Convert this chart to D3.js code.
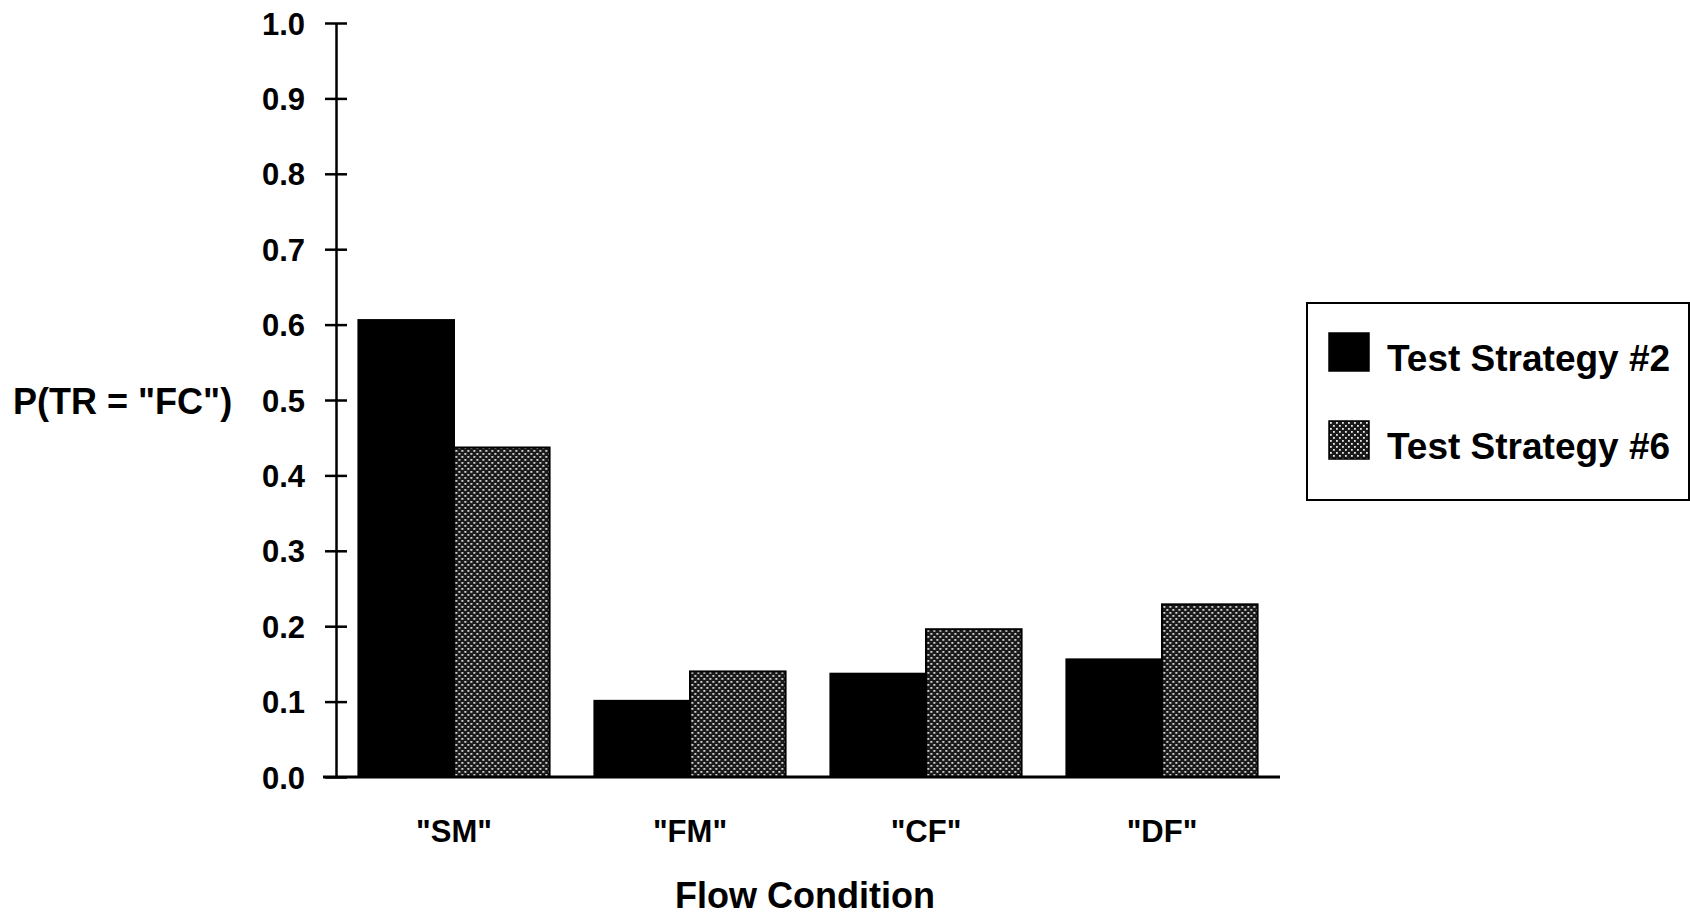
<!DOCTYPE html>
<html>
<head>
<meta charset="utf-8">
<script src="https://cdn.jsdelivr.net/npm/d3@7"></script>
<style>
  body { margin: 0; background: #fff; }
  text { font-family: "Liberation Sans", Arial, sans-serif; font-weight: bold; fill: #000; }
</style>
</head>
<body>
<div id="chart"></div>
<script>
// chart data
var categories = ['"SM"', '"FM"', '"CF"', '"DF"'];
var seriesNames = ["Test Strategy #2", "Test Strategy #6"];
var strategy2 = [0.606, 0.101, 0.137, 0.156];
var strategy6 = [0.437, 0.140, 0.196, 0.229];
var yTicks = [0.0, 0.1, 0.2, 0.3, 0.4, 0.5, 0.6, 0.7, 0.8, 0.9, 1.0];

var svgWidth = 1690;
var svgHeight = 915;

var margin = { top: 23, right: 410, bottom: 138, left: 336 };
var width = 1280 - margin.left;
var height = svgHeight - margin.top - margin.bottom;

var svg = d3.select("#chart")
  .append("svg")
  .attr("width", svgWidth)
  .attr("height", svgHeight);

// stippled fill for strategy #6
var defs = svg.append("defs");
var pat = defs.append("pattern")
  .attr("id", "stipple")
  .attr("patternUnits", "userSpaceOnUse")
  .attr("width", 6)
  .attr("height", 6);
pat.append("rect").attr("width", 6).attr("height", 6).attr("fill", "#1a1a1a");
pat.append("rect").attr("x", 1).attr("y", 1).attr("width", 1.8).attr("height", 1.8).attr("fill", "#e8e8e8");
pat.append("rect").attr("x", 4).attr("y", 4).attr("width", 1.8).attr("height", 1.8).attr("fill", "#e8e8e8");

var chartGroup = svg.append("g")
  .attr("transform", `translate(${margin.left}, ${margin.top})`);

var data = categories.map(function(c, i) {
  return { cat: c, values: [strategy2[i], strategy6[i]] };
});

var xScale = d3.scaleBand()
  .domain(categories)
  .range([0, width])
  .paddingInner(0.19)
  .paddingOuter(0.095);

var xSub = d3.scaleBand()
  .domain([0, 1])
  .range([0, xScale.bandwidth()]);

var yScale = d3.scaleLinear()
  .domain([0, 1])
  .range([height, 0]);

var fills = ["#000", "url(#stipple)"];

// bars
var groups = chartGroup.selectAll(".group")
  .data(data)
  .enter()
  .append("g")
  .attr("transform", d => `translate(${xScale(d.cat)}, 0)`);

groups.selectAll("rect")
  .data(d => d.values)
  .enter()
  .append("rect")
  .attr("x", (d, i) => xSub(i))
  .attr("y", d => yScale(d))
  .attr("width", xSub.bandwidth())
  .attr("height", d => height - yScale(d))
  .attr("fill", (d, i) => fills[i])
  .attr("stroke", "#000")
  .attr("stroke-width", 2);

// y axis with ticks crossing the line
var leftAxis = d3.axisLeft(yScale)
  .tickValues(yTicks)
  .tickFormat(d3.format(".1f"))
  .tickSizeInner(11)
  .tickSizeOuter(0)
  .tickPadding(20);

var yAxis = chartGroup.append("g").call(leftAxis);
yAxis.select(".domain").attr("stroke-width", 2.5);
yAxis.selectAll(".tick line")
  .attr("x2", 11)
  .attr("x1", -11)
  .attr("stroke-width", 2.5);
yAxis.selectAll(".tick text")
  .style("font-size", "31px")
  .style("font-family", "'Liberation Sans', Arial, sans-serif")
  .style("font-weight", "bold")
  .attr("dy", "0.36em");

// x axis
chartGroup.append("line")
  .attr("x1", -13)
  .attr("x2", width)
  .attr("y1", height)
  .attr("y2", height)
  .attr("stroke", "#000")
  .attr("stroke-width", 3);

chartGroup.selectAll(".xlabel")
  .data(categories)
  .enter()
  .append("text")
  .attr("x", d => xScale(d) + xScale.bandwidth() / 2)
  .attr("y", height + 54)
  .attr("dy", "0.36em")
  .attr("text-anchor", "middle")
  .style("font-size", "31px")
  .text(d => d);

// axis titles
svg.append("text")
  .attr("x", 805)
  .attr("y", 895)
  .attr("dy", "0.36em")
  .attr("text-anchor", "middle")
  .style("font-size", "36px")
  .text("Flow Condition");

svg.append("text")
  .attr("x", 13)
  .attr("y", 401)
  .attr("dy", "0.36em")
  .style("font-size", "36px")
  .text('P(TR = "FC")');

// legend
var legend = svg.append("g");
legend.append("rect")
  .attr("x", 1307)
  .attr("y", 303)
  .attr("width", 382)
  .attr("height", 197)
  .attr("fill", "none")
  .attr("stroke", "#000")
  .attr("stroke-width", 2);

var legendItems = legend.selectAll(".item")
  .data(seriesNames)
  .enter()
  .append("g")
  .attr("transform", (d, i) => `translate(1329, ${333 + i * 88})`);

legendItems.append("rect")
  .attr("width", 40)
  .attr("height", 38)
  .attr("fill", (d, i) => fills[i])
  .attr("stroke", "#000")
  .attr("stroke-width", 1.5);

legendItems.append("text")
  .attr("x", 58)
  .attr("y", 25)
  .attr("dy", "0.36em")
  .style("font-size", "37px")
  .text(d => d);
</script>
</body>
</html>
